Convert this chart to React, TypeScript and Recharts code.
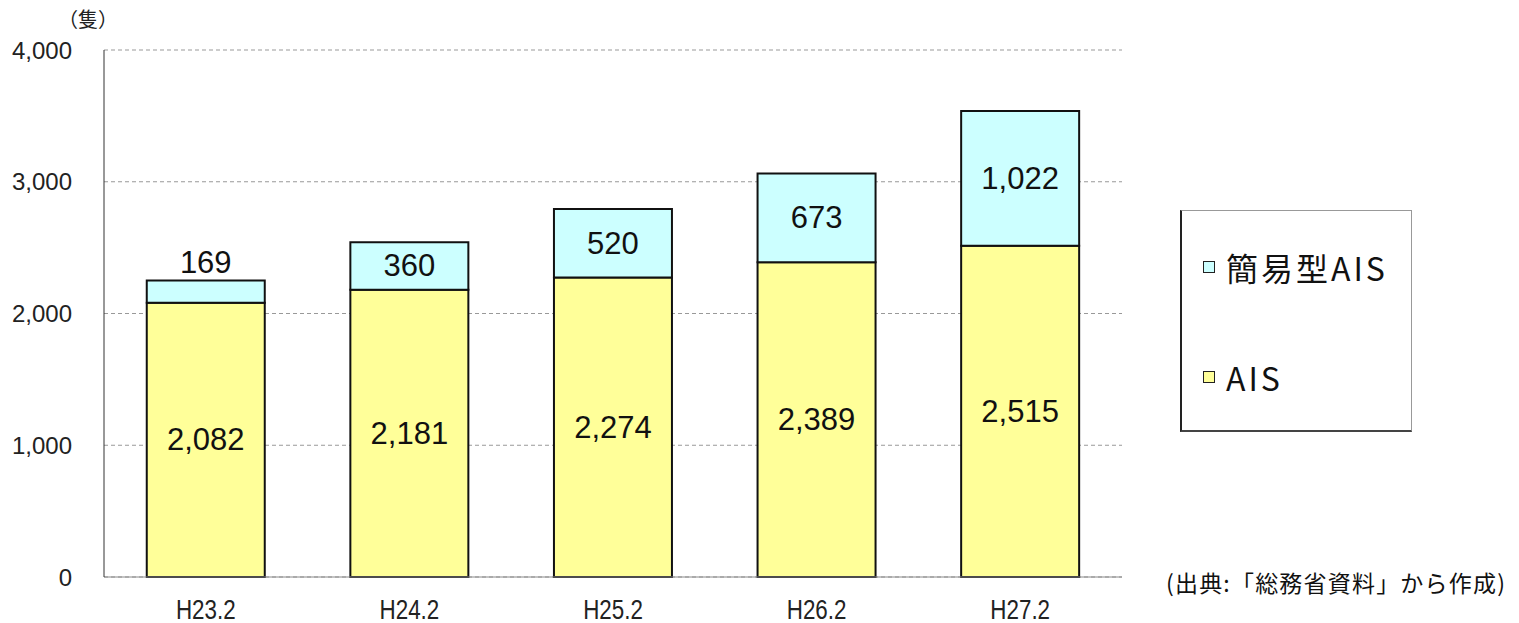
import React from "react";
import { ComposedChart, Bar, XAxis, YAxis, CartesianGrid, LabelList, Legend } from "recharts";

const categories = ["H23.2", "H24.2", "H25.2", "H26.2", "H27.2"];
const aisValues = [2082, 2181, 2274, 2389, 2515];
const simpleAisValues = [169, 360, 520, 673, 1022];
const yTicks = [0, 1000, 2000, 3000, 4000];
const seriesNames = { ais: "AIS", simple: "簡易型AIS" };
const unitLabel = "（隻）";
const sourceNote = "(出典:「総務省資料」から作成)";

const data = categories.map((c, i) => ({ name: c, ais: aisValues[i], simple: simpleAisValues[i] }));

const FONT = "'Liberation Sans', Arial, sans-serif";
const JP = "'Noto Sans CJK JP', 'Liberation Sans', sans-serif";

const fmt = (v: number) => v.toLocaleString("en-US");

const CenterLabel = (props: any) => {
  const { x, y, width, height, value } = props;
  return (
    <text x={x + width / 2} y={y + height / 2} textAnchor="middle" dominantBaseline="central" fontFamily={FONT} fontSize={31} fill="#111">
      {fmt(value)}
    </text>
  );
};

const TopLabel = (props: any) => {
  const { x, y, width, height, value } = props;
  const inside = height > 40;
  const cy = inside ? y + height / 2 : y - 18;
  return (
    <text x={x + width / 2} y={cy} textAnchor="middle" dominantBaseline="central" fontFamily={FONT} fontSize={31} fill="#111">
      {fmt(value)}
    </text>
  );
};

const XTick = (props: any) => {
  const { x, y, payload } = props;
  return (
    <g transform={`translate(${x},${y})`}>
      <text x={0} y={0} transform="scale(0.8,1)" textAnchor="middle" dominantBaseline="central" fontFamily={FONT} fontSize={28} fill="#222">
        {payload.value}
      </text>
    </g>
  );
};

const LegendBox = (props: any) => {
  const payload = [...(props.payload || [])].reverse();
  return (
    <div style={{ width: 232, height: 222, border: "1px solid #999", borderLeft: "2px solid #222", borderBottom: "2px solid #444", background: "#fff", position: "relative", boxSizing: "border-box" }}>
      {payload.map((p: any, i: number) => (
        <div key={p.value} style={{ position: "absolute", left: 21, top: i === 0 ? 36 : 146, display: "flex", alignItems: "center", height: 40 }}>
          <span style={{ display: "inline-block", width: 10, height: 10, border: "1.5px solid #222", background: p.color, marginRight: 11 }} />
          <span style={{ fontFamily: JP, fontSize: 32, letterSpacing: 3, color: "#111", lineHeight: "40px" }}>{p.value}</span>
        </div>
      ))}
    </div>
  );
};

export default function App() {
  return (
    <div style={{ position: "absolute", left: 0, top: 0, width: 1519, height: 623, background: "#fff" }}>
      <ComposedChart width={1519} height={623} data={data} margin={{ top: 50, right: 397, bottom: 0, left: 0 }} barCategoryGap="21%">
        <CartesianGrid vertical={false} stroke="#999" strokeDasharray="4 3" />
        <XAxis dataKey="name" height={46} tickLine={false} tickSize={0} tickMargin={32} stroke="#888" tick={<XTick />} />
        <YAxis width={104} domain={[0, 4000]} ticks={yTicks} tickLine={false} tickSize={0} tickMargin={32} stroke="#333" tickFormatter={fmt} tick={{ fontFamily: FONT, fontSize: 24, fill: "#222" }} />
        <Legend layout="vertical" align="center" verticalAlign="middle" content={<LegendBox />} wrapperStyle={{ position: "absolute", left: 1180, top: 210, width: 232, height: 222 }} />
        <Bar dataKey="ais" name={seriesNames.ais} stackId="a" fill="#FFFF99" stroke="#111" strokeWidth={2} isAnimationActive={false}>
          <LabelList dataKey="ais" content={<CenterLabel />} />
        </Bar>
        <Bar dataKey="simple" name={seriesNames.simple} stackId="a" fill="#CCFFFF" stroke="#111" strokeWidth={2} isAnimationActive={false}>
          <LabelList dataKey="simple" content={<TopLabel />} />
        </Bar>
      </ComposedChart>
      <div style={{ position: "absolute", left: 58, top: 4, fontFamily: JP, fontSize: 20, color: "#222" }}>{unitLabel}</div>
      <div style={{ position: "absolute", left: 1166, top: 565, fontFamily: JP, fontSize: 23, letterSpacing: 1.2, color: "#111", whiteSpace: "nowrap" }}>{sourceNote}</div>
    </div>
  );
}
